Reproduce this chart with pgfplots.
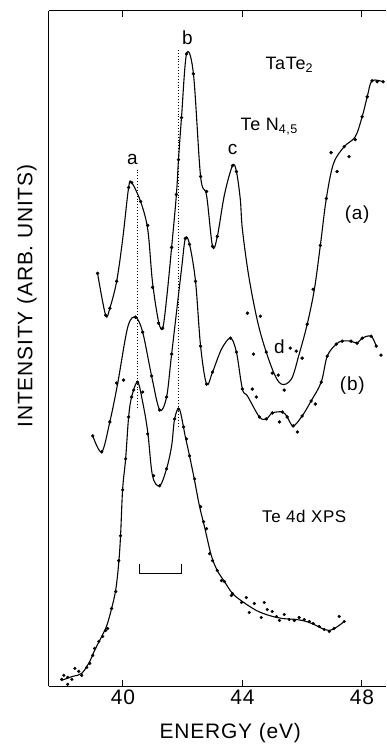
\documentclass[border=0pt]{standalone}
\usepackage{pgfplots}
\pgfplotsset{compat=1.18}
\usepackage{fontspec}
\setmainfont{Liberation Sans}[LetterSpace=4]
\usetikzlibrary{calc}
\begin{document}
\begin{tikzpicture}
\begin{axis}[
 scale only axis, width=338pt, height=677pt,
 xmin=37.52, xmax=48.81, ymin=0, ymax=677,
 axis x line=box, axis y line=left,
 axis line style={-, line width=1pt},
 xtick={40,44,48}, ytick=\empty,
 tick align=inside, major tick length=6pt,
 every tick/.style={line width=1pt, black},
 /pgf/number format/assume math mode=true,
 tick label style={font=\fontsize{21}{24}\selectfont},
 clip=false,
]
% curve (a)
\addplot[black, line width=1.1pt, smooth, tension=0.55] coordinates {
(39.15,414)(39.42,372)(39.56,379)(39.79,406)(39.99,448)(40.19,500)(40.29,505)(40.59,486)(40.83,458)(40.99,405)(41.19,366)(41.33,359)(41.46,388)(41.63,440)(41.79,493)(41.86,528)(41.96,570)(42.13,634)(42.36,614)(42.60,511)(42.80,492)(43.00,441)(43.16,451)(43.40,493)(43.67,522)(43.80,516)(43.93,488)(44.00,458)(44.23,408)(44.57,358)(45.00,318)(45.30,303)(45.64,308)(45.90,333)(46.17,363)(46.41,398)(46.61,442)(46.81,489)(47.05,524)(47.41,541)(47.78,551)(48.01,571)(48.18,591)(48.34,607)(48.71,606)};
\addplot[only marks, mark=*, mark size=1.5pt, black] coordinates {
(39.15,414)(39.42,372)(39.56,379)(39.79,406)(40.19,500)(40.29,505)(40.59,486)(40.83,462)(40.99,400)(41.19,364)(41.33,359)(41.63,440)(41.79,493)(41.86,528)(41.96,570)(42.13,634)(42.36,614)(42.60,511)(42.80,496)(43.00,441)(43.16,451)(43.67,522)(43.80,516)(44.17,374)(44.60,371)(44.37,333)(44.80,335)(45.00,314)(45.20,312)(45.40,297)(45.60,339)(45.80,336)(46.00,329)(46.17,363)(46.37,398)(46.61,442)(46.81,489)(46.97,535)(47.17,516)(47.41,541)(47.57,531)(47.78,548)(48.01,571)(48.18,591)(48.34,607)(48.51,606)(48.71,606)};
% curve (b)
\addplot[black, line width=1.1pt, smooth, tension=0.55] coordinates {
(38.99,251)(39.29,235)(39.56,265)(39.82,303)(40.16,360)(40.42,370)(40.66,355)(40.96,311)(41.23,277)(41.46,290)(41.63,333)(41.96,418)(42.09,449)(42.23,443)(42.43,406)(42.60,341)(42.80,303)(43.00,315)(43.30,338)(43.60,349)(43.80,335)(44.00,298)(44.17,291)(44.57,270)(44.80,268)(45.00,274)(45.34,275)(45.50,270)(45.70,261)(46.00,271)(46.30,286)(46.64,305)(46.84,331)(47.14,343)(47.34,346)(47.64,346)(47.84,344)(48.01,349)(48.31,351)(48.48,341)};
\addplot[only marks, mark=*, mark size=1.5pt, black] coordinates {
(38.99,251)(39.29,235)(39.56,265)(39.79,304)(40.02,307)(40.42,370)(40.66,355)(40.96,311)(41.23,277)(41.46,290)(41.63,333)(42.09,449)(42.23,443)(42.43,406)(42.60,341)(42.80,303)(43.00,315)(43.60,349)(43.80,335)(44.00,298)(44.33,298)(44.47,290)(44.57,270)(44.80,268)(45.00,274)(45.24,265)(45.34,275)(45.50,270)(45.70,261)(45.84,255)(46.00,271)(46.30,286)(46.44,283)(46.64,305)(46.84,331)(47.14,343)(47.34,346)(47.64,346)(47.84,344)(48.01,349)(48.31,351)(48.48,341)(48.64,332)};
% Te 4d XPS
\addplot[black, line width=1.1pt, smooth, tension=0.55] coordinates {
(37.95,6)(38.32,10)(38.62,13)(38.89,25)(39.05,36)(39.29,50)(39.46,61)(39.62,78)(39.76,97)(39.86,124)(39.92,151)(39.99,198)(40.09,228)(40.19,270)(40.29,290)(40.49,305)(40.66,285)(40.83,255)(40.99,211)(41.23,201)(41.46,218)(41.63,241)(41.73,268)(41.89,278)(42.09,250)(42.23,231)(42.40,206)(42.56,181)(42.73,160)(42.96,131)(43.16,116)(43.40,105)(43.67,93)(44.00,85)(44.47,76)(44.90,71)(45.34,68)(45.80,67)(46.14,65)(46.47,61)(46.67,58)(46.91,56)(47.14,59)(47.41,65)};
\addplot[only marks, mark=*, mark size=1.4pt, black] coordinates {
(37.95,7)(38.02,11)(38.15,9)(38.29,7)(38.15,2)(38.39,18)(38.52,15)(38.62,11)(38.79,19)(38.89,23)(38.99,31)(39.05,38)(39.19,45)(39.32,50)(39.42,56)(39.49,58)(39.62,78)(39.76,95)(39.86,126)(39.92,151)(39.99,197)(40.09,228)(40.19,270)(40.29,290)(40.36,297)(40.49,305)(40.66,295)(40.83,253)(41.03,211)(41.23,201)(41.46,218)(41.73,268)(41.86,278)(42.03,260)(42.13,248)(42.23,231)(42.40,208)(42.60,180)(42.70,165)(42.80,158)(42.90,133)(43.00,126)(43.16,116)(43.30,106)(43.40,105)(43.67,93)(43.63,91)(43.97,84)(44.13,89)(44.23,74)(44.40,83)(44.63,69)(44.73,84)(44.83,77)(45.00,75)(45.14,70)(45.24,66)(45.40,72)(45.57,67)(45.74,66)(45.90,69)(46.07,67)(46.24,65)(46.37,63)(46.57,60)(46.74,57)(46.91,55)(47.07,58)(47.24,70)(47.41,65)};
% dotted guide lines
\addplot[black, dotted, line width=0.9pt] coordinates {(40.50,518)(40.50,278)};
\addplot[black, dotted, line width=0.9pt] coordinates {(41.87,638)(41.87,260)};
% bracket
\addplot[black, line width=1pt] coordinates {(40.54,123)(40.54,113)(41.97,113)(41.97,123)};
% annotations
\node[font=\fontsize{19}{22}\selectfont] at (axis cs:40.32,528) {a};
\node[font=\fontsize{19}{22}\selectfont] at (axis cs:42.16,650) {b};
\node[font=\fontsize{19}{22}\selectfont] at (axis cs:43.67,538) {c};
\node[font=\fontsize{19}{22}\selectfont] at (axis cs:45.24,340) {d};
\node[font=\fontsize{18}{21}\selectfont] at (axis cs:45.57,623) {TaTe\textsubscript{2}};
\node[font=\fontsize{18}{21}\selectfont] at (axis cs:44.90,561) {Te N\textsubscript{4,5}};
\node[font=\fontsize{19}{22}\selectfont] at (axis cs:47.84,473) {(a)};
\node[font=\fontsize{19}{22}\selectfont] at (axis cs:47.68,301) {(b)};
\node[font=\fontsize{17}{20}\selectfont] at (axis cs:46.07,170) {Te 4d XPS};
\node[rotate=90, font=\fontsize{21}{24}\selectfont] at (axis description cs:-0.065,0.578) {INTENSITY (ARB. UNITS)};
\node[font=\fontsize{21}{24}\selectfont] at (axis description cs:0.538,-0.069) {ENERGY (eV)};
\end{axis}
\path ($(current axis.south west)+(-49pt,-58pt)$) rectangle ($(current axis.north east)+(0pt,11pt)$);
\end{tikzpicture}
\end{document}
